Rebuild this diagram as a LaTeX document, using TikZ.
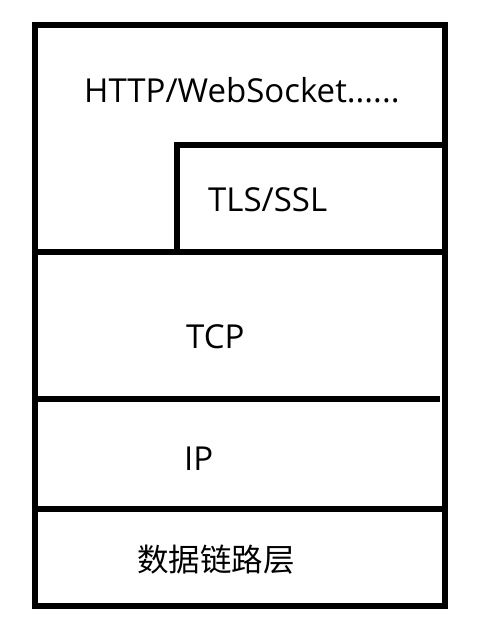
\documentclass[tikz,border=0pt]{standalone}
\usepackage{fontspec}
\setmainfont{Open Sans}
\newfontfamily\cjk{Noto Sans CJK SC}
\tikzset{
  layer/.style={line width=6.5pt},
  label/.style={inner sep=0pt, anchor=base west, font=\fontsize{33}{33}\selectfont}
}

\begin{document}
\begin{tikzpicture}[x=1pt, y=-1pt]
    \useasboundingbox (0,0) rectangle (479,633);

    \draw[layer] (35,25) rectangle (445,606);
    \draw[layer] (177,252) -- (177,145) -- (445,145);
    \draw[layer] (35,252) -- (445,252);
    \draw[layer] (35,399) -- (440,399);
    \draw[layer] (35,509) -- (445,509);

    \node[label] (http) at (84,102) {HTTP/WebSocket......};
    \node[label] (tls)  at (208,211) {TLS/SSL};
    \node[label] (tcp)  at (186,348) {TCP};
    \node[label] (ip)   at (184,470) {IP};
    \node[label, font=\cjk\fontsize{31.5}{31.5}\selectfont] (link) at (137,571) {数据链路层};
\end{tikzpicture}
\end{document}
